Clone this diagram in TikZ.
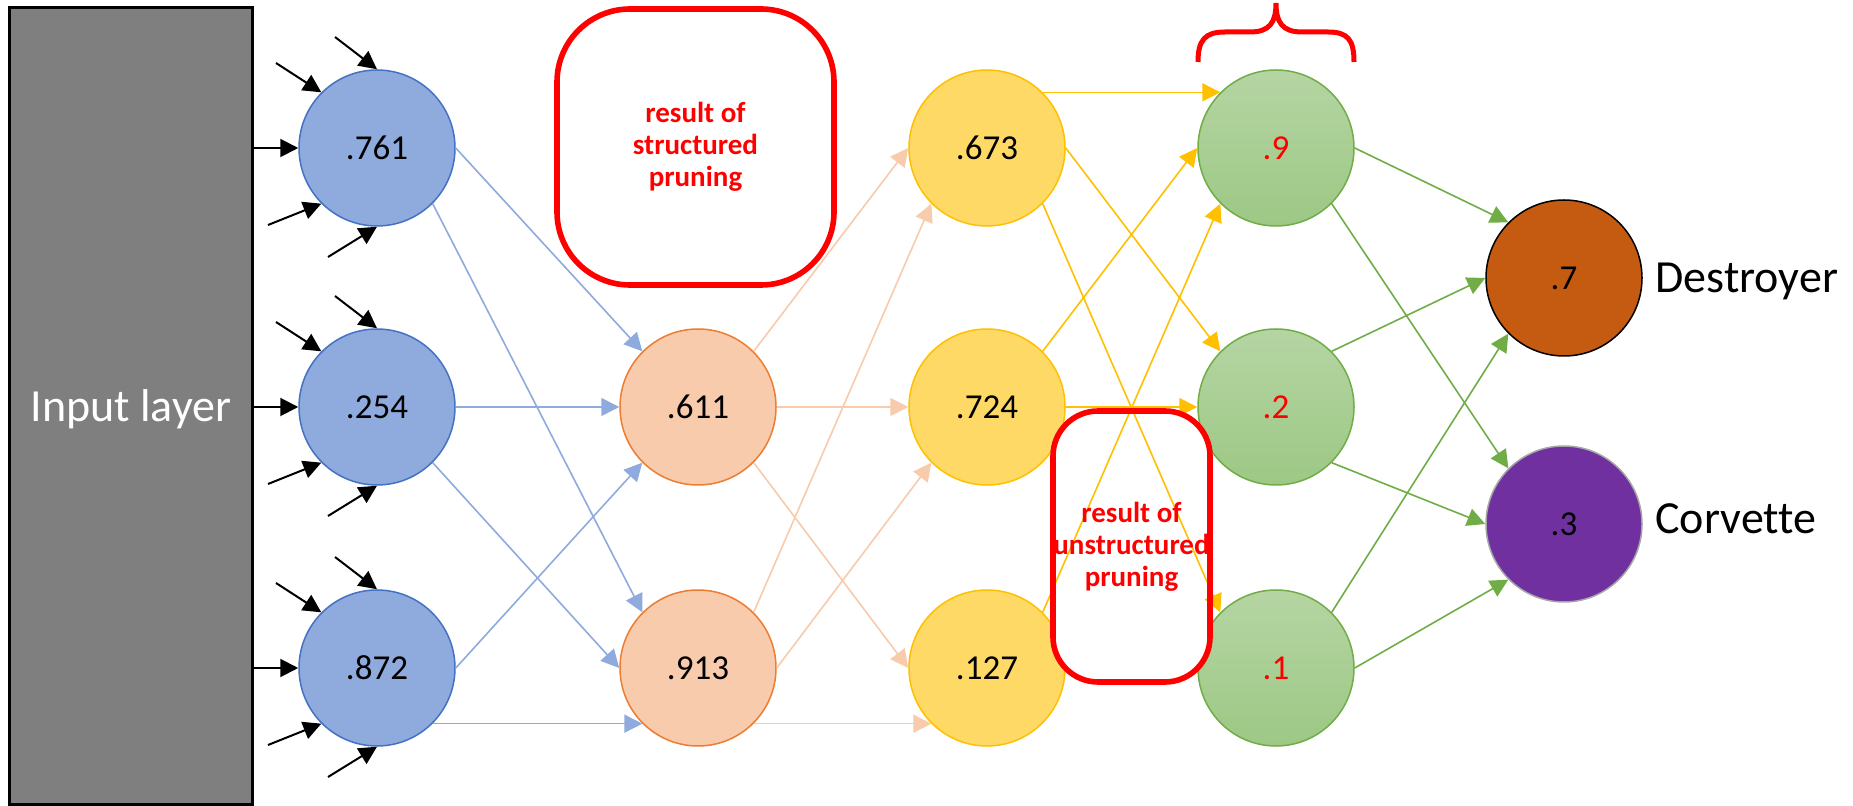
\documentclass[tikz,border=0pt]{standalone}
\usepackage{fontspec}
\setmainfont{Carlito}[Ligatures=NoCommon]
\usetikzlibrary{arrows.meta,calc}

\definecolor{blueF}{HTML}{8FAADC}
\definecolor{blueD}{HTML}{4472C4}
\definecolor{orgF}{HTML}{F8CBAD}
\definecolor{orgD}{HTML}{ED7D31}
\definecolor{yelF}{HTML}{FFD966}
\definecolor{yelD}{HTML}{FFC000}
\definecolor{grnD}{HTML}{70AD47}
\definecolor{grnT}{HTML}{B5D5A3}
\definecolor{grnB}{HTML}{9DC885}
\definecolor{destF}{HTML}{C55A11}
\definecolor{corvF}{HTML}{7030A0}
\definecolor{corvD}{HTML}{A6A6A6}
\definecolor{pruneRed}{HTML}{FF0000}
\definecolor{inGray}{HTML}{7F7F7F}

\begin{document}
\begin{tikzpicture}[x=0.5pt,y=-0.5pt,
  tipA/.style={-{Triangle[length=9pt,width=9pt]}},
  neuron/.style={circle, minimum size=78pt, inner sep=0pt, line width=0.75pt,
                 font=\fontsize{17.5}{20}\selectfont},
  bnode/.style={neuron, draw=blueD, fill=blueF},
  hnode/.style={neuron, draw=orgD, fill=orgF},
  ynode/.style={neuron, draw=yelD, fill=yelF},
  gnode/.style={neuron, draw=grnD, top color=grnT, bottom color=grnB, text=pruneRed},
  inarr/.style={draw=black, line width=1pt, tipA},
  bedge/.style={draw=blueF, line width=0.8pt, tipA},
  hedge/.style={draw=orgF, line width=0.8pt, tipA},
  yedge/.style={draw=yelD, line width=0.8pt, tipA},
  gedge/.style={draw=grnD, line width=0.8pt, tipA},
  bigtext/.style={font=\fontsize{23}{27}\selectfont, inner sep=0pt},
  prunetext/.style={font=\bfseries\fontsize{14.5}{16}\selectfont, text=pruneRed, align=center},
]
\useasboundingbox (0,0) rectangle (1853,806);
\fill[white] (0,0) rectangle (1853,806);

% input block
\node[draw=black, line width=1.5pt, fill=inGray, minimum width=121.5pt,
      minimum height=398pt, inner sep=0pt] (inp) at (130.5,406) {};
\node[bigtext, text=white, anchor=base] (inlbl) at (131,422) {Input layer};

% first layer
\node[bnode] (b1) at (377,148) {.761};
\node[bnode] (b2) at (377,407) {.254};
\node[bnode] (b3) at (377,668) {.872};

% second layer
\node[hnode] (h1) at (698,407) {.611};
\node[hnode] (h2) at (698,668) {.913};

% third layer
\node[ynode] (y1) at (987,148) {.673};
\node[ynode] (y2) at (987,407) {.724};
\node[ynode] (y3) at (987,668) {.127};

% fourth layer
\node[gnode] (g1) at (1276,148) {.9};
\node[gnode] (g2) at (1276,407) {.2};
\node[gnode] (g3) at (1276,668) {.1};

% outputs
\node[neuron, draw=black, fill=destF] (d) at (1564,278) {.7};
\node[neuron, draw=corvD, fill=corvF] (c) at (1564,524) {.3};
\node[bigtext, anchor=base west] (dlbl) at (1655,293) {Destroyer};
\node[bigtext, anchor=base west] (clbl) at (1655,534) {Corvette};

% incoming signals of the first layer
\foreach \n in {b1,b2,b3}{
  \coordinate (\n-s1) at ($(\n)+(-42,-111)$);
  \coordinate (\n-s2) at ($(\n)+(-101,-85)$);
  \coordinate (\n-s4) at ($(\n)+(-109,77)$);
  \coordinate (\n-s5) at ($(\n)+(-49,109)$);
  \draw[inarr] (\n-s1) -- (\n.north);
  \draw[inarr] (\n-s2) -- (\n.135);
  \draw[inarr] (inp.east |- \n) -- (\n.west);
  \draw[inarr] (\n-s4) -- (\n.225);
  \draw[inarr] (\n-s5) -- (\n.south);
}

% structured pruning note
\node[draw=pruneRed, line width=2.8pt, fill=white, rounded corners=36.5pt,
      minimum width=138.5pt, minimum height=138pt, prunetext] (sbox) at (695.5,147)
      {result of\\structured\\pruning};

% background of the unstructured pruning note
\node[fill=white, rounded corners=22.5pt, minimum width=78.5pt,
      minimum height=135.5pt, inner sep=0pt] (ubox) at (1131.5,546.5) {};

% layer 1 -> layer 2
\draw[bedge] (b1.east) -- (h1.135);
\draw[bedge] (b1.-45) -- (h2.135);
\draw[bedge] (b2.east) -- (h1.west);
\draw[bedge] (b2.-45) -- (h2.west);
\draw[bedge] (b3.east) -- (h1.225);
\draw[bedge] (b3.-45) -- (h2.225);

% layer 2 -> layer 3
\draw[hedge] (h1.45) -- (y1.west);
\draw[hedge] (h1.east) -- (y2.west);
\draw[hedge] (h1.-45) -- (y3.west);
\draw[hedge] (h2.45) -- (y1.225);
\draw[hedge] (h2.east) -- (y2.225);
\draw[hedge] (h2.-45) -- (y3.225);

% layer 3 -> layer 4
\draw[yedge] (y1.45) -- (g1.135);
\draw[yedge] (y1.east) -- (g2.135);
\draw[yedge] (y1.-45) -- (g3.135);
\draw[yedge] (y2.45) -- (g1.west);
\draw[yedge] (y2.east) -- (g2.west);
\draw[yedge] (y3.45) -- (g1.225);

% layer 4 -> outputs
\draw[gedge] (g1.east) -- (d.135);
\draw[gedge] (g1.-45) -- (c.135);
\draw[gedge] (g2.45) -- (d.west);
\draw[gedge] (g2.-45) -- (c.west);
\draw[gedge] (g3.45) -- (d.225);
\draw[gedge] (g3.east) -- (c.225);

% unstructured pruning note, outline and text
\node[draw=pruneRed, line width=2.8pt, rounded corners=22.5pt, minimum width=78.5pt,
      minimum height=135.5pt, inner sep=0pt, prunetext] (ubord) at (ubox)
      {result of\\unstructured\\pruning};

% brace over the fourth layer
\draw[pruneRed, line width=2.5pt]
  (1198,62) .. controls (1198,40) and (1205,32) .. (1225,32) -- (1250,32)
  .. controls (1270,32) and (1276,22) .. (1276,3)
  .. controls (1276,22) and (1282,32) .. (1302,32) -- (1328,32)
  .. controls (1348,32) and (1354,40) .. (1354,62);
\end{tikzpicture}
\end{document}
